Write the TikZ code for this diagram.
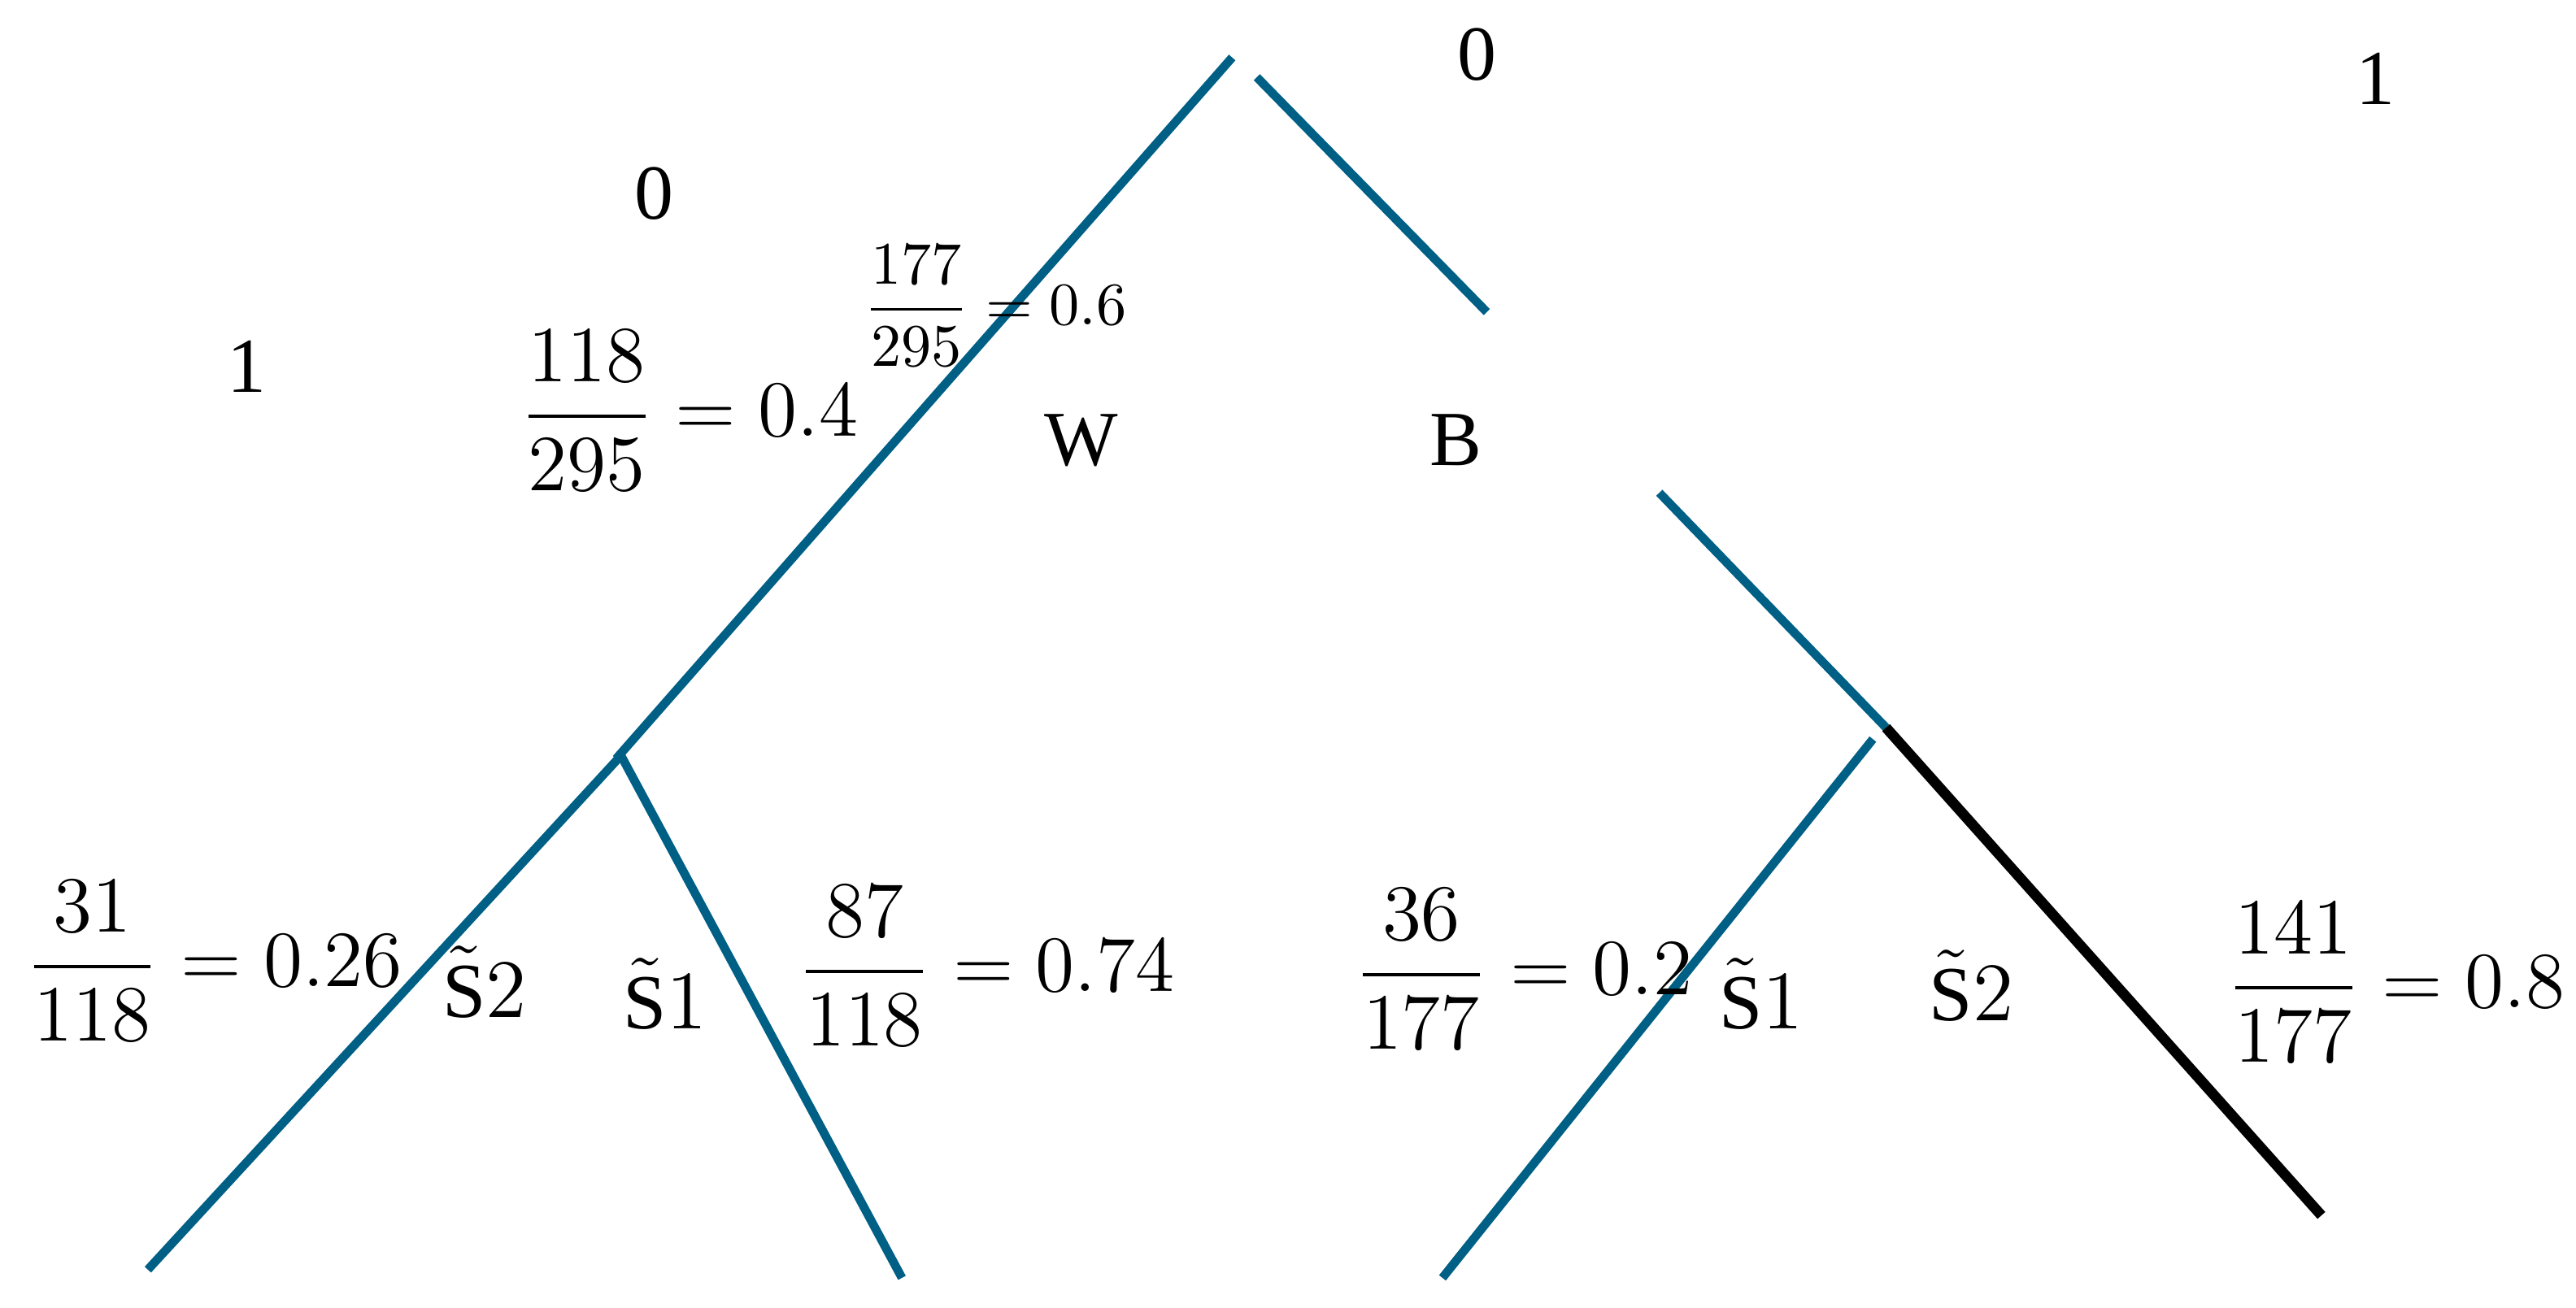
\documentclass[tikz,border=0pt]{standalone}
\usepackage{amsmath}
\usepackage{fontspec}
\setmainfont{Liberation Serif}
\definecolor{branch}{RGB}{0,95,133}
\newcommand{\pfrac}[3]{\scalebox{1.15}{$\dfrac{#1}{#2}=#3$}}
\tikzset{
  edge/.style={branch, line width=1.5pt},
  lab/.style={inner sep=0pt, font=\fontsize{13.5}{15}\selectfont},
  prob/.style={inner sep=0pt, anchor=west, font=\fontsize{12}{14}\selectfont},
}

\begin{document}
\begin{tikzpicture}
\useasboundingbox (0,0) rectangle (15.68,-7.96);
% end points of the branches
\coordinate (rootL) at (7.50,-0.35);
\coordinate (rootR) at (7.65,-0.47);
\coordinate (w) at (3.75,-4.62);
\coordinate (wS) at (3.78,-4.60);
\coordinate (bcut) at (9.05,-1.90);
\coordinate (bstart) at (10.10,-3.00);
\coordinate (b) at (11.48,-4.43);
\coordinate (bS) at (11.40,-4.50);
\coordinate (wleft) at (0.90,-7.73);
\coordinate (wright) at (5.49,-7.78);
\coordinate (bleft) at (8.78,-7.78);
\coordinate (bright) at (14.13,-7.40);

\draw[edge] (rootL) -- (w);
\draw[edge] (rootR) -- (bcut);
\draw[edge] (bstart) -- (b);
\draw[black, line width=1.8pt] (b) -- (bright);
\draw[edge] (wS) -- (wleft);
\draw[edge] (wS) -- (wright);
\draw[edge] (bS) -- (bleft);

% labels
\node[lab] (zeroTop) at (8.99,-0.33) {0};
\node[lab] (oneTop) at (14.46,-0.48) {1};
\node[lab] (zeroLeft) at (3.98,-1.18) {0};
\node[lab] (oneLeft) at (1.50,-2.23) {1};
\node[lab] (W) at (6.58,-2.68) {W};
\node[lab] (B) at (8.86,-2.68) {B};

\node[prob] (pW) at (3.16,-2.50) {\pfrac{118}{295}{0.4}};
\node[prob, font=\fontsize{10}{12}\selectfont] (pB) at (5.25,-1.86) {\scalebox{0.91}{\pfrac{177}{295}{0.6}}};
\node[prob] (pWS2) at (0.15,-5.85) {\pfrac{31}{118}{0.26}};
\node[prob] (pWS1) at (4.85,-5.88) {\pfrac{87}{118}{0.74}};
\node[prob] (pBS1) at (8.24,-5.90) {\pfrac{36}{177}{0.2}};
\node[prob] (pBS2) at (13.55,-5.98) {\pfrac{141}{177}{0.8}};

\node[lab] (wS2) at (2.95,-5.98) {$\tilde{\mathrm{S}}2$};
\node[lab] (wS1) at (4.05,-6.05) {$\tilde{\mathrm{S}}1$};
\node[lab] (bS1) at (10.72,-6.05) {$\tilde{\mathrm{S}}1$};
\node[lab] (bS2) at (12.00,-6.00) {$\tilde{\mathrm{S}}2$};
\end{tikzpicture}
\end{document}
